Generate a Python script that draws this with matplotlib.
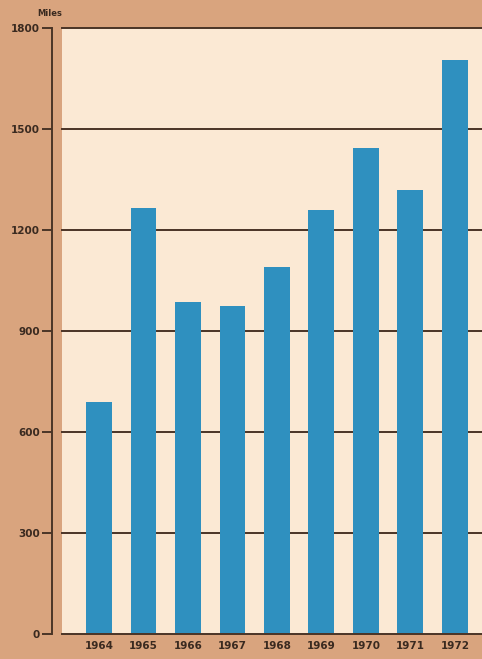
import matplotlib
matplotlib.use("Agg")
import matplotlib.pyplot as plt

years = ["1964", "1965", "1966", "1967", "1968", "1969", "1970", "1971", "1972"]
miles = [690, 1265, 985, 975, 1090, 1260, 1445, 1320, 1705]
yticks = [0, 300, 600, 900, 1200, 1500, 1800]

W, H = 482, 659
fig = plt.figure(figsize=(W / 100, H / 100), dpi=100)
fig.patch.set_facecolor("#d9a47e")

left_px, right_px, top_px, bot_px = 62, 482, 28, 634
ax = fig.add_axes([left_px / W, (H - bot_px) / H, (right_px - left_px) / W, (bot_px - top_px) / H])
ax.set_facecolor("#fbe9d4")

x = list(range(len(years)))
ax.bar(x, miles, width=0.58, color="#2f90bf", zorder=3)

ax.set_ylim(0, 1800)
ax.set_xlim(-0.83, 8.61)
ax.set_yticks(yticks)
ax.set_yticklabels([str(t) for t in yticks])
for t in yticks:
    ax.axhline(t, color="#4a3426", lw=1.4, zorder=4 if t == 0 else 2, clip_on=False)

ax.set_xticks(x)
ax.set_xticklabels(years)

for s in ["top", "right", "bottom"]:
    ax.spines[s].set_visible(False)
ax.spines["left"].set_position(("outward", 7))
ax.spines["left"].set_color("#4a3426")
ax.spines["left"].set_linewidth(1.4)

ax.tick_params(axis="y", length=7, width=1.4, color="#4a3426", labelsize=7.5,
               labelcolor="#3a2a20", pad=2)
ax.tick_params(axis="x", length=0, labelsize=7.5, labelcolor="#3a2a20", pad=5)
for lab in ax.get_yticklabels() + ax.get_xticklabels():
    lab.set_fontweight("bold")

fig.text(50 / W, 1 - 13 / H, "Miles", fontsize=6, fontweight="bold", color="#3a2a20",
         ha="center", va="center")

fig.savefig("out.png", dpi=100, facecolor=fig.get_facecolor())
